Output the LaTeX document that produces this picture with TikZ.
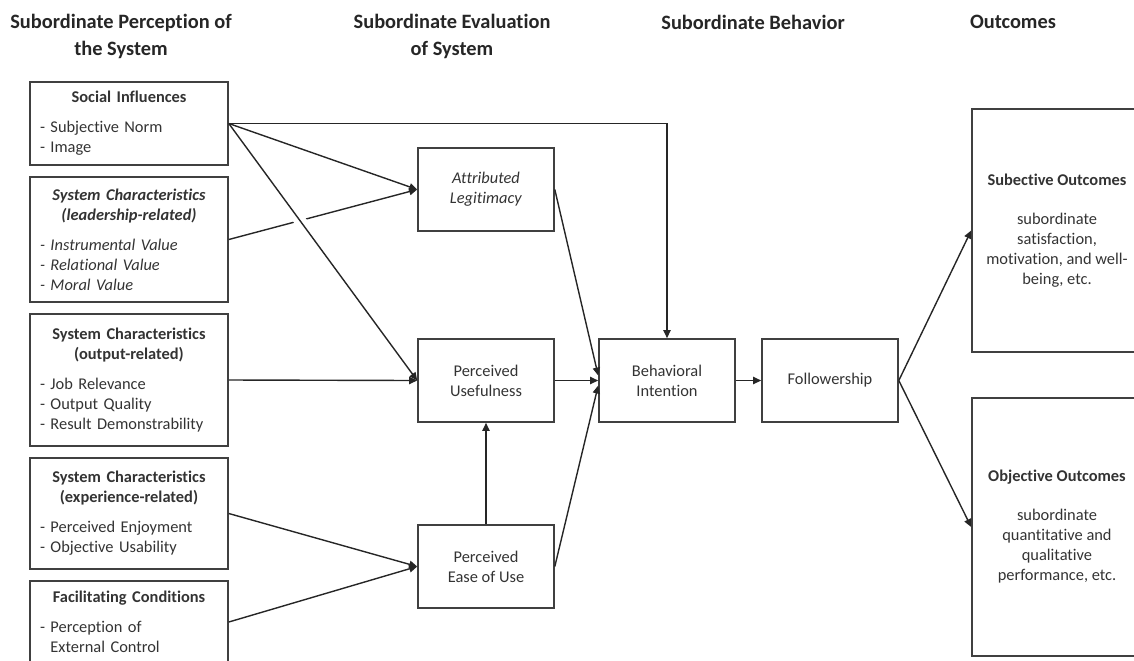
\documentclass[tikz,border=0pt]{standalone}
\usepackage{fontspec}
\setmainfont{Carlito}[Ligatures=NoCommon]
\usetikzlibrary{arrows.meta}

% title centred, items flush left
\newcommand{\boxtext}[2]{\centering\textbf{#1}\par\vspace{5pt}\raggedright #2}

\begin{document}
\begin{tikzpicture}[x=0.5pt,y=-0.5pt,
    header/.style={align=center,text=black!85,font=\fontsize{10.2}{13.5}\selectfont\bfseries},
    factor/.style={draw=black!75,line width=0.8pt,inner xsep=5pt,text width=89pt,text=black!80,
        font=\fontsize{8.2}{10}\selectfont},
    construct/.style={draw=black!75,line width=0.8pt,minimum width=68pt,minimum height=41.5pt,
        align=center,text=black!80,font=\fontsize{8.2}{10}\selectfont},
    outcome/.style={draw=black!75,line width=0.8pt,minimum width=85pt,align=center,text=black!80,
        font=\fontsize{8.2}{10}\selectfont},
    conn/.style={draw=black!85,line width=0.7pt,-{Triangle[length=4pt,width=3.6pt]}}]

    \useasboundingbox (0,0) rectangle (1134,660);
    \clip (0,0) rectangle (1134,660);

    % column headers
    \node[header] (hperc) at (121,36) {Subordinate Perception of\\the System};
    \node[header] (heval) at (452,36) {Subordinate Evaluation\\of System};
    \node[header] (hbeh) at (753,22) {Subordinate Behavior};
    \node[header] (hout) at (1013,22) {Outcomes};

    % perception of the system
    \node[factor,minimum height=41.5pt] (social) at (129,123.5)
        {\boxtext{Social Influences}{- Subjective Norm\\- Image}};
    \node[factor,minimum height=62.5pt] (lead) at (129,239.5)
        {\boxtext{\textit{System Characteristics\\(leadership-related)}}
        {\itshape - Instrumental Value\\- Relational Value\\- Moral Value}};
    \node[factor,minimum height=66pt] (outp) at (129,380)
        {\boxtext{System Characteristics\\(output-related)}
        {- Job Relevance\\- Output Quality\\- Result Demonstrability}};
    \node[factor,minimum height=55.5pt] (expe) at (129,513.5)
        {\boxtext{System Characteristics\\(experience-related)}
        {- Perceived Enjoyment\\- Objective Usability}};
    \node[factor,minimum height=41pt] (facil) at (129,622)
        {\boxtext{Facilitating Conditions}{- Perception of\\\phantom{- }External Control}};

    % evaluation and behaviour
    \node[construct] (legit) at (486,189.5) {\textit{Attributed}\\\textit{Legitimacy}};
    \node[construct] (useful) at (486,380.5) {Perceived\\Usefulness};
    \node[construct] (ease) at (486,566.5) {Perceived\\Ease of Use};
    \node[construct] (intent) at (667,380.5) {Behavioral\\Intention};
    \node[construct] (follow) at (830,380.5) {Followership};

    % outcomes
    \node[outcome,minimum height=121.5pt] (subj) at (1057,230.5)
        {\textbf{Subective Outcomes}\\[9.5pt]subordinate\\satisfaction,\\motivation, and well-\\being, etc.};
    \node[outcome,minimum height=129pt] (obj) at (1057,527)
        {\textbf{Objective Outcomes}\\[9.5pt]subordinate\\quantitative and\\qualitative\\performance, etc.};

    % links
    \draw[conn] (lead.east) -- (legit.west);
    \draw[conn,preaction={draw=white,line width=6pt,-,shorten <=20pt,shorten >=20pt}]
        (social.east) -- (useful.west);
    \draw[conn] (social.east) -- (legit.west);
    \draw[conn] (social.east) -| (intent.north);
    \draw[conn] (outp.east) -- (useful.west);
    \draw[conn] (expe.east) -- (ease.west);
    \draw[conn] (facil.east) -- (ease.west);
    \draw[conn] (ease.north) -- (useful.south);
    \draw[conn] (legit.east) -- ([yshift=2.5pt]intent.west);
    \draw[conn] (useful.east) -- (intent.west);
    \draw[conn] (ease.east) -- ([yshift=-2.5pt]intent.west);
    \draw[conn] (intent.east) -- (follow.west);
    \draw[conn] (follow.east) -- (subj.west);
    \draw[conn] (follow.east) -- (obj.west);
\end{tikzpicture}
\end{document}
